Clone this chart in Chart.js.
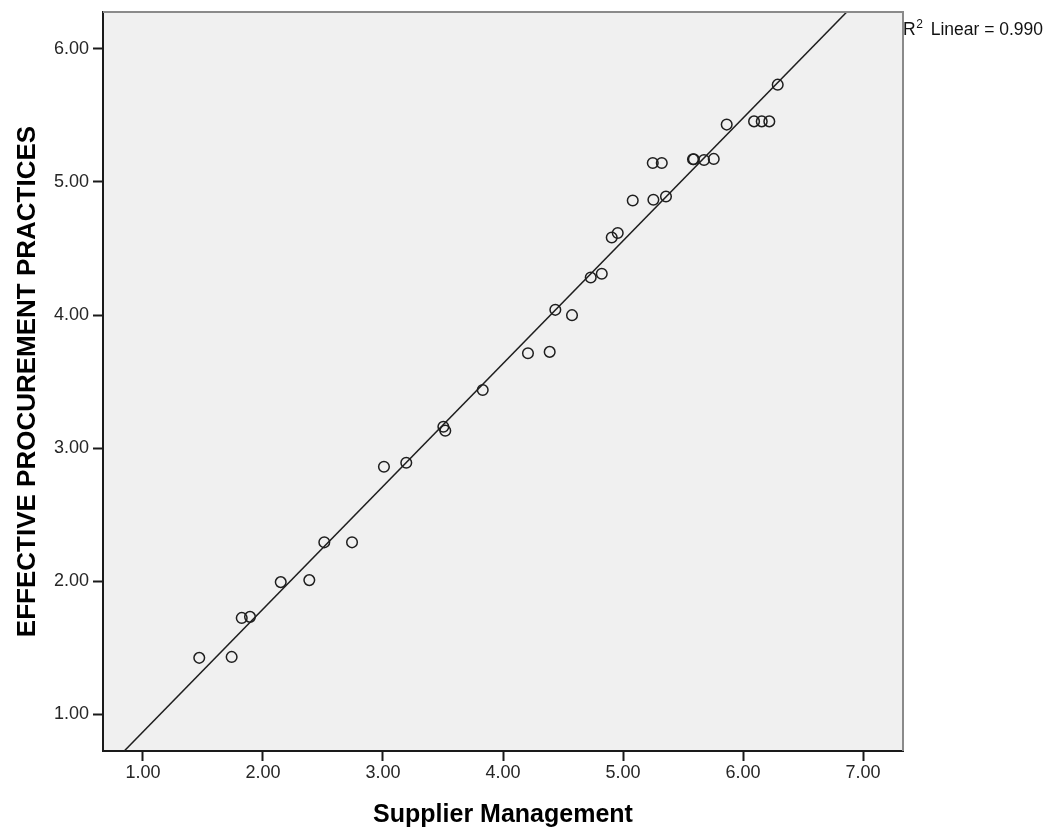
<!DOCTYPE html>
<html>
<head>
<meta charset="utf-8">
<title>Supplier Management vs Effective Procurement Practices</title>
<script src="https://cdn.jsdelivr.net/npm/chart.js@4.4.1/dist/chart.umd.min.js"></script>
<style>
  html, body { margin: 0; padding: 0; background: #ffffff; }
  #wrap { width: 1059px; height: 827px; }
</style>
</head>
<body>
<div id="wrap"><canvas id="scatter" width="1059" height="827"></canvas></div>
<script>
// Respondent scores (x: Supplier Management, y: Effective Procurement Practices)
const supplierManagement = [
  1.469, 1.739, 1.823, 1.892, 2.148, 2.386, 2.511, 2.742, 3.008, 3.194,
  3.503, 3.519, 3.831, 4.208, 4.389, 4.436, 4.575, 4.731, 4.823, 4.906,
  4.956, 5.081, 5.253, 5.358, 5.248, 5.323, 5.583, 5.590, 5.675, 5.756,
  5.864, 6.092, 6.156, 6.219, 6.289
];
const procurementPractices = [
  1.424, 1.431, 1.724, 1.732, 1.993, 2.008, 2.292, 2.292, 2.860, 2.890,
  3.161, 3.131, 3.437, 3.713, 3.723, 4.039, 3.999, 4.282, 4.310, 4.583,
  4.616, 4.861, 4.866, 4.891, 5.142, 5.142, 5.170, 5.170, 5.165, 5.173,
  5.431, 5.455, 5.455, 5.455, 5.731
];

// Axis ticks and ranges
const xTickValues = [1, 2, 3, 4, 5, 6, 7];
const yTickValues = [1, 2, 3, 4, 5, 6];
const xRange = [0.667, 7.333];
const yRange = [0.724, 6.277];

// Linear fit
const fitSlope = 0.9224;
const fitIntercept = -0.0545;
const rSquared = 0.990;

const FONT = "'Liberation Sans', Arial, Helvetica, sans-serif";

const scatterPoints = supplierManagement.map((x, i) => ({ x: x, y: procurementPractices[i] }));
const fitLine = xRange.map(x => ({ x: x, y: fitIntercept + fitSlope * x }));

// Grey plot background plus the light top/right frame
const plotFrame = {
  id: 'plotFrame',
  beforeDraw(chart) {
    const { ctx, chartArea: a } = chart;
    ctx.save();
    ctx.fillStyle = '#ffffff';
    ctx.fillRect(0, 0, chart.width, chart.height);
    ctx.fillStyle = '#f0f0f0';
    ctx.fillRect(a.left, a.top, a.right - a.left, a.bottom - a.top);
    ctx.restore();
  },
  afterDraw(chart) {
    const { ctx, chartArea: a } = chart;
    ctx.save();
    ctx.strokeStyle = '#8a8a8a';
    ctx.lineWidth = 2;
    ctx.beginPath();
    ctx.moveTo(a.left, a.top);
    ctx.lineTo(a.right, a.top);
    ctx.lineTo(a.right, a.bottom);
    ctx.stroke();

    // R-squared annotation at the top right of the frame
    let x = a.right;
    const base = 34.5;
    ctx.fillStyle = '#111111';
    ctx.textBaseline = 'alphabetic';
    ctx.textAlign = 'left';
    ctx.font = '17.5px ' + FONT;
    ctx.fillText('R', x, base);
    x += ctx.measureText('R').width + 0.5;
    ctx.font = '12px ' + FONT;
    ctx.fillText('2', x, base - 7);
    x += ctx.measureText('2').width + 3;
    ctx.font = '17.5px ' + FONT;
    ctx.fillText(' Linear = ' + rSquared.toFixed(3), x, base);
    ctx.restore();
  }
};

const tickFont = { family: FONT, size: 18 };

new Chart(document.getElementById('scatter'), {
  data: {
    datasets: [
      {
        type: 'scatter',
        data: scatterPoints,
        pointStyle: 'circle',
        pointRadius: 5.3,
        pointHoverRadius: 5.3,
        pointBorderWidth: 1.5,
        pointBorderColor: '#1e1e1e',
        pointBackgroundColor: 'rgba(0,0,0,0)',
        showLine: false,
        clip: 0,
        order: 1
      },
      {
        type: 'line',
        data: fitLine,
        borderColor: '#1e1e1e',
        borderWidth: 1.5,
        pointRadius: 0,
        fill: false,
        tension: 0,
        clip: 0,
        order: 2
      }
    ]
  },
  options: {
    responsive: false,
    animation: false,
    layout: { padding: { top: 12, right: 156, bottom: 0, left: 0 } },
    plugins: {
      legend: { display: false },
      tooltip: { enabled: false }
    },
    scales: {
      x: {
        type: 'linear',
        position: 'bottom',
        min: xRange[0],
        max: xRange[1],
        afterBuildTicks(scale) { scale.ticks = xTickValues.map(v => ({ value: v })); },
        afterFit(scale) { scale.height = 76; scale.paddingLeft = 0; scale.paddingRight = 0; },
        border: { display: true, color: '#1a1a1a', width: 2 },
        grid: { drawOnChartArea: false, drawTicks: true, tickLength: 10, tickWidth: 2, tickColor: '#1a1a1a' },
        ticks: {
          font: tickFont,
          color: '#262626',
          padding: 1,
          maxRotation: 0,
          autoSkip: false,
          callback: v => Number(v).toFixed(2)
        },
        title: {
          display: true,
          text: 'Supplier Management',
          font: { family: FONT, size: 25, weight: 'bold', lineHeight: 1 },
          color: '#000000',
          padding: { top: 0, bottom: -1 }
        }
      },
      y: {
        type: 'linear',
        position: 'left',
        min: yRange[0],
        max: yRange[1],
        afterBuildTicks(scale) { scale.ticks = yTickValues.map(v => ({ value: v })); },
        afterFit(scale) { scale.width = 103; scale.paddingTop = 0; scale.paddingBottom = 0; },
        border: { display: true, color: '#1a1a1a', width: 2 },
        grid: { drawOnChartArea: false, drawTicks: true, tickLength: 10, tickWidth: 2, tickColor: '#1a1a1a' },
        ticks: {
          font: tickFont,
          color: '#262626',
          padding: 4,
          autoSkip: false,
          callback: v => Number(v).toFixed(2)
        },
        title: {
          display: true,
          text: 'EFFECTIVE PROCUREMENT PRACTICES',
          font: { family: FONT, size: 26, weight: 'bold', lineHeight: 1 },
          color: '#000000',
          padding: { top: 15, bottom: 0 }
        }
      }
    }
  },
  plugins: [plotFrame]
});
</script>
</body>
</html>
